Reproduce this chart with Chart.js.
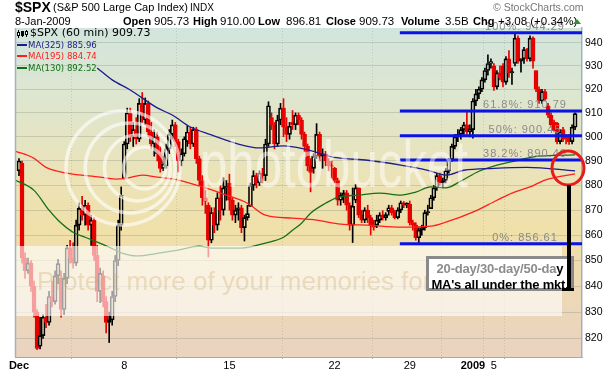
<!DOCTYPE html>
<html>
<head>
<meta charset="utf-8">
<script src="https://cdn.jsdelivr.net/npm/chart.js@4.4.1/dist/chart.umd.min.js"></script>
<style>
body { margin: 0; background: #fff; }
#wrap { position: relative; width: 612px; height: 374px; overflow: hidden; font-family: 'Liberation Sans', Arial, sans-serif; color: #000; }
#chart { position: absolute; left: 0; top: 0; }
.t { position: absolute; white-space: nowrap; line-height: 1; }
.b { font-weight: bold; }
.lg { font-family: 'DejaVu Sans', Verdana, sans-serif; }
.lgc { font-family: 'DejaVu Sans Condensed', 'DejaVu Sans', sans-serif; font-size: 9.5px; }
.sw { position: absolute; width: 10px; height: 2px; }
#note { position: absolute; left: 426px; top: 256px; width: 142px; height: 29px; border: 3px solid #8a8a8a; background: #fff; }
#note div { position: absolute; left: -2px; width: 146px; text-align: center; font-weight: bold; font-size: 13px; letter-spacing: -0.2px; line-height: 1; white-space: nowrap; }
</style>
</head>
<body>
<div id="wrap">
<canvas id="chart" width="612" height="374"></canvas>

<span class="t b" style="left:15px;top:0px;font-size:14px">$SPX</span>
<span class="t" style="left:53px;top:2px;font-size:11px">(S&amp;P 500 Large Cap Index)</span>
<span class="t" style="left:190px;top:3px;font-size:10px">INDX</span>
<span class="t" style="left:493px;top:2px;font-size:10.5px;color:#777">© StockCharts.com</span>

<span class="t" style="left:15px;top:15.7px;font-size:11px">8-Jan-2009</span>
<span class="t b" style="left:123px;top:15.7px;font-size:11px">Open</span>
<span class="t" style="left:154px;top:15.7px;font-size:11.5px">905.73</span>
<span class="t b" style="left:193px;top:15.7px;font-size:11px">High</span>
<span class="t" style="left:220px;top:15.7px;font-size:11.5px">910.00</span>
<span class="t b" style="left:258px;top:15.7px;font-size:11px">Low</span>
<span class="t" style="left:286px;top:15.7px;font-size:11.5px">896.81</span>
<span class="t b" style="left:326px;top:15.7px;font-size:11px">Close</span>
<span class="t" style="left:359px;top:15.7px;font-size:11.5px">909.73</span>
<span class="t b" style="left:401px;top:15.7px;font-size:11px">Volume</span>
<span class="t" style="left:445px;top:15.7px;font-size:11.5px">3.5B</span>
<span class="t b" style="left:473px;top:15.7px;font-size:11px">Chg</span>
<span class="t" style="left:498px;top:15.7px;font-size:11.5px">+3.08 (+0.34%)</span>
<span style="position:absolute;left:573px;top:19px;width:0;height:0;border-left:4px solid transparent;border-right:4px solid transparent;border-bottom:5px solid #2f8f2f"></span>

<svg style="position:absolute;left:17px;top:30px" width="11" height="8">
  <line x1="1.5" y1="0" x2="1.5" y2="8" stroke="#000"/>
  <rect x="0.5" y="2.5" width="2" height="3" fill="#fff" stroke="#000"/>
  <line x1="5.5" y1="1" x2="5.5" y2="7" stroke="#000"/>
  <rect x="4.5" y="1.5" width="2" height="4" fill="#000" stroke="#000"/>
  <line x1="9.5" y1="0" x2="9.5" y2="7" stroke="#000"/>
  <rect x="8.5" y="1.5" width="2" height="3" fill="#fff" stroke="#000"/>
</svg>
<span class="t lg" style="left:30px;top:27.4px;font-size:11px">$SPX (60 min) 909.73</span>
<span class="sw" style="left:17px;top:44px;background:#1c1c8c"></span>
<span class="t lgc" style="left:28px;top:40.3px;color:#1c1c8c">MA(325) 885.96</span>
<span class="sw" style="left:17px;top:55px;background:#ff1e1e"></span>
<span class="t lgc" style="left:28px;top:51.3px;color:#ff1e1e">MA(195) 884.74</span>
<span class="sw" style="left:17px;top:66.5px;background:#157015"></span>
<span class="t lgc" style="left:28px;top:62.7px;color:#157015">MA(130) 892.52</span>

<div id="note">
  <div style="top:3px;color:#8c8c8c">20-day/30-day/50-da<span style="color:#000">y</span></div>
  <div style="top:19px">MA's all under the mkt.</div>
</div>
<span style="position:absolute;left:567px;top:185px;width:4px;height:106px;background:#000"></span>
<span style="position:absolute;left:562px;top:288px;width:12px;height:3px;background:#000"></span>
</div>

<script>
'use strict'

// 60-minute bars, Dec 1 2008 .. Jan 8 2009 (Dec 24 half day: 4 bars)
const opens = [
    886, 889, 851, 846, 849, 840, 830,
    817, 821, 828, 826, 836, 834, 844,
    843, 831, 843, 855, 851, 849, 864,
    870, 868, 872, 864, 866, 852, 838,
    844, 834, 826, 827, 836, 850, 864,
    882.7, 897, 910, 900, 903, 899, 914,
    907, 914, 902, 897, 900, 893, 887,
    888, 895, 901, 905, 898, 890, 893,
    898, 902, 897, 903, 891, 882, 875,
    872, 858, 869, 864, 875, 870, 879,
    881, 874, 868, 870, 871, 863, 867,
    871.5, 880, 884, 881, 885, 884, 897,
    908, 905, 897, 907, 912, 904, 901,
    906, 905, 909, 907, 901, 896, 888,
    887, 892, 901, 892, 893, 890, 888,
    887, 882, 874, 876, 877, 872, 864,
    874, 879, 868, 866, 870, 867, 864,
    864, 866, 868, 867,
    869.5, 871, 869, 867, 870, 873, 872,
    872.4, 865, 864, 859, 862, 863, 869,
    870.6, 875, 879, 884, 881, 882, 886,
    890.6, 896, 900, 901, 903, 905, 902,
    903, 915, 918, 920, 924, 928, 931,
    930, 921, 927, 930, 923, 933, 927,
    931, 942, 932, 933, 937, 933, 942,
    928, 920, 915, 919, 913, 909, 906,
    905.7, 898, 903, 900, 900, 898, 904
];
const highs = [
    891, 890, 853, 851, 850, 842, 831,
    828, 829, 833, 838, 842, 846, 850.5,
    846, 845, 856, 858, 857, 866, 873,
    875.6, 874, 873, 868, 867, 856, 847,
    846, 836, 830, 838, 852, 866, 879.4,
    898, 912, 912, 906, 908, 916, 918.6,
    916.3, 915, 906, 903, 902, 896, 892,
    897, 903, 907, 906, 899, 895, 900,
    904.6, 904, 904, 904, 892, 884, 878,
    873, 871, 871, 877, 880, 883.2, 882,
    884.6, 875, 872, 873, 872, 868, 872,
    881, 886, 885, 886, 887, 899, 914.7,
    910, 906, 909, 914, 916, 908, 906,
    911, 910, 910, 908, 902, 897, 891,
    893, 905.5, 902, 895, 894, 891, 890,
    887.4, 883, 877, 878, 878, 873, 879,
    880.4, 879, 870, 871, 872, 868, 866,
    868, 869, 869.8, 869,
    872, 872, 870, 871, 873.7, 873.5, 873,
    873.7, 866, 865, 863, 864, 870, 872,
    876, 880, 885, 885, 883, 887, 891.1,
    897, 901, 903, 904, 906, 910.3, 905,
    916, 920, 921, 925, 929, 934.7, 933,
    931, 928, 930, 931, 934, 936.6, 929,
    943.9, 943, 933, 938, 937.5, 943, 942.5,
    928, 921, 920, 920, 914, 910, 907,
    906, 903, 904, 901, 901, 905, 910
];
const lows = [
    884, 849, 843, 845, 838, 828, 815.7,
    816, 820, 824, 825, 832, 833, 841,
    828, 829, 841, 849, 847, 848, 862,
    866, 864, 862, 856, 850, 834, 833.6,
    832, 822, 818.4, 825, 834, 848, 862,
    882.7, 895, 898, 896, 897, 898, 906,
    905, 900, 895, 892, 890, 885.4, 886,
    887, 893, 899, 896, 885.5, 888, 892,
    896, 895, 896, 889, 880, 872, 868.7,
    851.4, 857, 861, 862, 866, 868, 874,
    870, 866, 865, 866, 861, 857.7, 866,
    871.5, 878, 879, 880, 881, 882, 896,
    903, 895, 896, 905, 900, 898, 899,
    903, 903, 905, 899, 894, 886, 877.4,
    885, 891, 890, 887, 888, 886, 883,
    881, 872, 872, 873, 870, 862, 857.1,
    873, 867, 865, 865, 865, 860.1, 862,
    863, 865, 866, 866,
    868, 868, 866.5, 866.5, 869, 871, 871,
    864, 862, 858, 856.6, 860, 862, 868,
    870.6, 874, 878, 880, 879, 881, 885,
    889.7, 895, 898, 899, 901, 901, 900,
    899.4, 913, 916, 919, 923, 926, 929,
    919.5, 920, 924, 921, 922, 925, 922,
    930, 931, 927.3, 931, 932, 932, 929,
    919, 914, 914, 915, 908, 904, 902.4,
    897, 897, 898, 897, 896.8, 897, 903
];
const closes = [
    890, 851, 846, 849, 840, 830, 816.2,
    821, 828, 826, 836, 834, 844, 848.8,
    831, 843, 855, 851, 849, 864, 870.7,
    868, 872, 864, 866, 852, 838, 845,
    834, 826, 827, 836, 850, 864, 876,
    897, 910, 900, 903, 899, 914, 909.7,
    914, 902, 897, 900, 893, 887, 888.7,
    895, 901, 905, 898, 890, 893, 899.2,
    902, 897, 903, 891, 882, 875, 873.6,
    858, 869, 864, 875, 870, 879, 879.7,
    874, 868, 870, 871, 863, 867, 868.6,
    880, 884, 881, 885, 884, 897, 913,
    905, 897, 907, 912, 904, 901, 904.4,
    905, 909, 907, 901, 896, 888, 885.3,
    892, 901, 892, 893, 890, 888, 887.9,
    882, 874, 876, 877, 872, 864, 871.6,
    879, 868, 866, 870, 867, 864, 863.2,
    866, 868, 867, 868.2,
    871, 869, 867, 870, 873, 872, 872.8,
    865, 864, 859, 862, 863, 869, 869.4,
    875, 879, 884, 881, 882, 886, 890.6,
    896, 900, 901, 903, 905, 902, 903.3,
    915, 918, 920, 924, 928, 931, 931.8,
    921, 927, 925, 923, 933, 927, 927.5,
    942, 932, 933, 937, 933, 942, 932,
    920, 915, 919, 916, 909, 905, 903,
    898, 902, 899, 899, 898, 904, 909.7
];

// moving averages, sampled at bar positions
const ma325Bars = [26, 31, 37, 46, 51, 57, 64, 73, 80, 88, 95, 105, 116, 127, 136, 142, 148, 158, 169, 185];
const ma325 = [929.1, 924.0, 919.7, 912.1, 909.1, 904.1, 900.8, 897.0, 895.4, 896.2, 894.9, 891.5, 890.3, 888.3, 886.2, 884.2, 886.2, 887.0, 887.4, 885.96];
const ma195Bars = [-1.3, 5, 9, 16, 27, 32, 36, 41, 46, 53, 60, 69, 76, 82, 91, 99, 107, 116, 127, 137, 142, 151, 159, 164, 170, 175, 185];
const ma195 = [894.1, 891.1, 887.4, 885.0, 883.4, 882.6, 883.0, 884.2, 883.4, 882.2, 879.8, 876.1, 872.8, 868.0, 866.8, 866.0, 864.4, 864.0, 863.2, 863.6, 865.2, 869.2, 874.0, 876.9, 879.4, 882.2, 884.74];
const ma130Bars = [-1.3, 5, 10, 13, 18, 22, 26, 30, 34, 39, 47, 53, 60, 64, 74, 82, 88, 91, 94, 97, 102, 106, 113, 120, 127, 132, 137, 142, 147, 153, 159, 166, 172, 178, 185];
const ma130 = [882.2, 878.0, 870.0, 866.0, 861.2, 859.2, 857.3, 855.3, 853.0, 851.8, 853.0, 854.1, 855.7, 854.9, 854.9, 856.9, 859.2, 862.0, 864.8, 868.8, 872.8, 875.2, 876.1, 876.9, 876.1, 877.3, 879.4, 879.0, 881.8, 885.8, 888.3, 890.3, 891.9, 892.3, 892.52];

// fibonacci retracement levels
const fibNames = ['100%', '61.8%', '50%', '38.2%', '0%'];
const fibLevels = [944.29, 910.79, 900.45, 890.40, 856.61];
const fibStartBar = 126.7;

// axes
const tickBars = [0, 35, 70, 105, 130, 151, 158];
const tickLabels = ['Dec', '8', '15', '22', '29', '2009', '5'];
const boldLabels = ['Dec', '2009'];
const yTicks = [820, 830, 840, 850, 860, 870, 880, 890, 900, 910, 920, 930, 940];
const xMin = -1.33;
const xMax = 187.3;
const yMin = 812.95;
const yMax = 946.4;

const upColor = '#000000';
const downColor = '#e60000';

const backgroundPlugin = {
    id: 'background',
    beforeDraw(chart){
        const {ctx, chartArea: a} = chart;
        const g = ctx.createLinearGradient(0, a.top, 0, a.bottom);
        g.addColorStop(0, '#d2e5dd');
        g.addColorStop(0.2, '#dde6d0');
        g.addColorStop(0.45, '#ebe3b8');
        g.addColorStop(0.62, '#f0e0a9');
        g.addColorStop(0.72, '#efdcae');
        g.addColorStop(0.87, '#ecd6ba');
        g.addColorStop(1, '#ead3c0');
        ctx.save();
        ctx.fillStyle = g;
        ctx.fillRect(a.left, a.top, a.right - a.left, a.bottom - a.top);
        ctx.restore();
    }
};

// the photo-host watermark sitting over the plot
const watermarkPlugin = {
    id: 'watermark',
    afterDatasetsDraw(chart){
        const ctx = chart.ctx;
        ctx.save();
        ctx.strokeStyle = 'rgba(255,255,255,0.62)';
        ctx.lineWidth = 3.5;
        const radii = [57, 45, 33, 21];
        for (let r of radii){
            ctx.beginPath();
            ctx.arc(123 + (57 - r) * 0.6, 168, r, 0, Math.PI * 2);
            ctx.stroke();
        }
        ctx.fillStyle = 'rgba(255,255,255,0.5)';
        ctx.font = "66px 'Liberation Sans'";
        ctx.fillText('photobucket', 200, 187, 268);
        ctx.fillStyle = 'rgba(255,255,255,0.62)';
        ctx.fillRect(15, 246, 547, 70);
        ctx.fillStyle = 'rgba(200,165,95,0.3)';
        ctx.font = "26px 'Liberation Sans'";
        ctx.fillText('Protect more of your memories for less!', 37, 290, 525);
        ctx.restore();
    }
};

const markupPlugin = {
    id: 'markup',
    afterDraw(chart){
        const {ctx, chartArea: a} = chart;
        const y = chart.scales.y;
        ctx.save();
        // plot left border
        ctx.strokeStyle = '#9fb3c1';
        ctx.lineWidth = 1.5;
        ctx.beginPath();
        ctx.moveTo(a.left + 0.5, a.top);
        ctx.lineTo(a.left + 0.5, a.bottom);
        ctx.stroke();
        // fib labels
        ctx.fillStyle = '#8a8a8a';
        ctx.font = "11px 'Liberation Sans'";
        ctx.letterSpacing = '1px';
        ctx.textAlign = 'center';
        for (let i = 0; i < fibLevels.length; i++){
            let py = y.getPixelForValue(fibLevels[i]) - 3;
            ctx.fillText(fibNames[i] + ': ' + fibLevels[i].toFixed(2), 525, py);
        }
        ctx.letterSpacing = '0px';
        // red ring around the MA cluster
        ctx.strokeStyle = '#e81b1b';
        ctx.lineWidth = 3;
        ctx.beginPath();
        ctx.ellipse(568, 168, 16, 17, 0, 0, Math.PI * 2);
        ctx.stroke();
        ctx.restore();
    }
};

init();

function init(){
    const candles = buildCandles();
    const datasets = [
        wickDataset(candles.lower, candles.colors),
        wickDataset(candles.upper, candles.colors),
        {
            type: 'bar',
            data: candles.bodies,
            backgroundColor: candles.fills,
            borderColor: candles.colors,
            borderWidth: 1,
            borderSkipped: false,
            barThickness: 4,
            grouped: false,
            order: 10
        },
        maDataset(ma325Bars, ma325, '#1c1c8c'),
        maDataset(ma195Bars, ma195, '#ff1e1e'),
        maDataset(ma130Bars, ma130, '#157015')
    ];
    for (let i = 0; i < fibLevels.length; i++){
        datasets.push({
            type: 'line',
            data: [{x: fibStartBar, y: fibLevels[i]}, {x: xMax, y: fibLevels[i]}],
            borderColor: '#0a12e8',
            borderWidth: 3,
            pointRadius: 0,
            order: 1
        });
    }
    new Chart(document.getElementById('chart'), {
        type: 'bar',
        data: {datasets: datasets},
        options: chartOptions(),
        plugins: [backgroundPlugin, watermarkPlugin, markupPlugin]
    });
}

function buildCandles(){
    let bodies = [];
    let upper = [];
    let lower = [];
    let colors = [];
    let fills = [];
    for (let i = 0; i < closes.length; i++){
        let top = Math.max(opens[i], closes[i]);
        let bottom = Math.min(opens[i], closes[i]);
        bodies.push({x: i, y: [bottom, top]});
        upper.push({x: i, y: [top, highs[i]]});
        lower.push({x: i, y: [lows[i], bottom]});
        let up = closes[i] >= opens[i];
        colors.push(up ? upColor : downColor);
        fills.push(up ? 'rgba(0,0,0,0)' : downColor);
    }
    return {bodies, upper, lower, colors, fills};
}

function wickDataset(data, colors){
    return {
        type: 'bar',
        data: data,
        backgroundColor: colors,
        borderWidth: 0,
        barThickness: 1,
        grouped: false,
        order: 11
    };
}

function maDataset(bars, values, color){
    let points = [];
    for (let i = 0; i < bars.length; i++){
        points.push({x: bars[i], y: values[i]});
    }
    return {
        type: 'line',
        data: points,
        borderColor: color,
        borderWidth: 1.3,
        pointRadius: 0,
        cubicInterpolationMode: 'monotone',
        order: 5
    };
}

function chartOptions(){
    const gridColor = 'rgba(90,105,90,0.22)';
    return {
        responsive: false,
        animation: false,
        devicePixelRatio: 1,
        layout: {padding: {top: 28, left: 15, right: 0, bottom: 0}},
        plugins: {legend: {display: false}, tooltip: {enabled: false}},
        scales: {
            x: {
                type: 'linear',
                min: xMin,
                max: xMax,
                offset: false,
                afterBuildTicks: function(scale){
                    scale.ticks = tickBars.map(v => ({value: v}));
                },
                afterFit: function(scale){ scale.height = 17; },
                grid: {color: gridColor, tickLength: 2, tickColor: '#9ab0be'},
                border: {color: '#8fb0c2', dash: [1, 2]},
                ticks: {
                    autoSkip: false,
                    maxRotation: 0,
                    padding: 0,
                    color: '#000',
                    callback: function(value, index){ return tickLabels[index]; },
                    font: function(ctx){
                        let bold = boldLabels.includes(tickLabels[ctx.index]);
                        return {family: "'Liberation Sans', Arial", size: 11, weight: bold ? 'bold' : 'normal'};
                    }
                }
            },
            y: {
                type: 'logarithmic',
                position: 'right',
                min: yMin,
                max: yMax,
                afterBuildTicks: function(scale){
                    scale.ticks = yTicks.map(v => ({value: v}));
                },
                afterFit: function(scale){ scale.width = 30; },
                grid: {color: gridColor, drawTicks: false},
                border: {color: '#9db3c2', width: 1.5},
                ticks: {
                    padding: 3,
                    color: '#000',
                    font: {family: "'Liberation Sans', Arial", size: 10.5},
                    callback: function(value){ return String(value); }
                }
            }
        }
    };
}
</script>
</body>
</html>
